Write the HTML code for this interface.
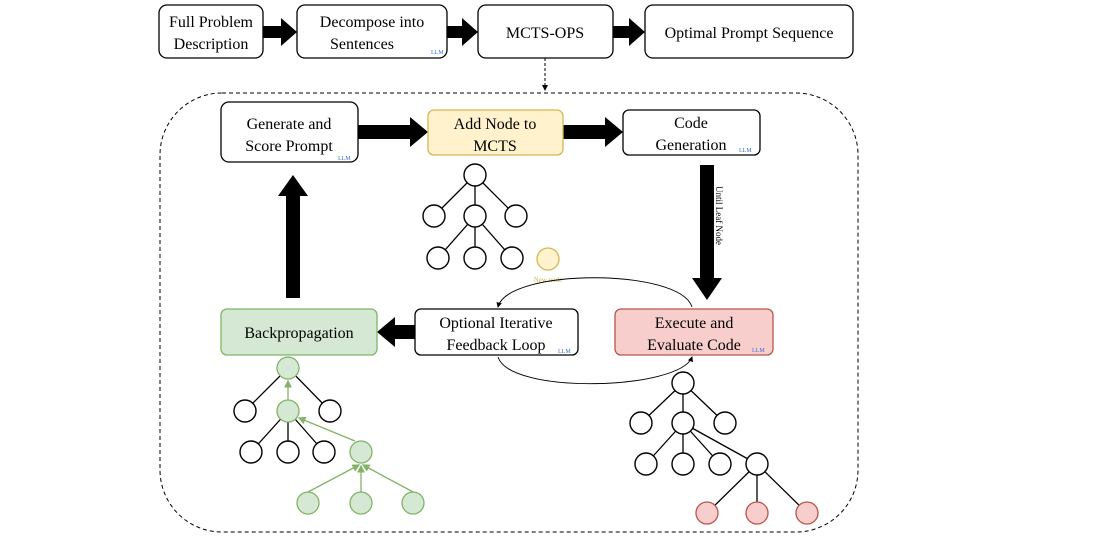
<!DOCTYPE html>
<html><head><style>
html,body{margin:0;padding:0;background:#fff;}
svg{display:block;font-family:"Liberation Serif",serif;}
</style></head><body>
<svg width="1096" height="548" viewBox="0 0 1096 548" xmlns="http://www.w3.org/2000/svg">
<defs>
<marker id="ah" markerWidth="6" markerHeight="6" refX="5" refY="3" orient="auto"><path d="M0,0 L6,3 L0,6 z" fill="#000"/></marker>
<marker id="ag" markerWidth="6" markerHeight="6" refX="5" refY="3" orient="auto"><path d="M0,0 L6,3 L0,6 z" fill="#82b366"/></marker>
</defs>
<g fill="#000">
<!-- top arrows -->
<path d="M263,26 h18 v-8 l16,14 l-16,14 v-8 h-18z"/>
<path d="M447,26 h15 v-8 l16,14 l-16,14 v-8 h-15z"/>
<path d="M613,26 h16 v-8 l16,14 l-16,14 v-8 h-16z"/>
<path d="M358,125 h52 v-8 l18,15 l-18,15 v-8 h-52z"/>
<path d="M563,125 h42 v-8 l18,15 l-18,15 v-8 h-42z"/>
<path d="M700,165 h14 v113 h8 l-15,22 l-15,-22 h8z"/>
<path d="M415,325 v14 h-20 v8 l-18,-15 l18,-15 v8z"/>
<path d="M286,298 v-102 h-8 l15,-21 l15,21 h-8 v102z"/>
</g>
<g stroke="#000" stroke-width="1.3" fill="#fff">
<rect x="159" y="5" width="104" height="53" rx="8"/>
<rect x="297" y="5" width="150" height="53" rx="8"/>
<rect x="478" y="5" width="135" height="53" rx="8"/>
<rect x="645" y="5" width="208" height="53" rx="8"/>
<rect x="221" y="102" width="137" height="60" rx="8"/>
<rect x="623" y="110" width="137" height="45" rx="6"/>
<rect x="415" y="309" width="163" height="46" rx="6"/>
</g>
<rect x="428" y="110" width="135" height="45" rx="6" fill="#fff2cc" stroke="#d6b656" stroke-width="1.3"/>
<rect x="615" y="309" width="158" height="46" rx="6" fill="#f8cecc" stroke="#b85450" stroke-width="1.3"/>
<rect x="221" y="309" width="156" height="46" rx="6" fill="#d5e8d4" stroke="#82b366" stroke-width="1.3"/>
<path d="M545,58 V90" stroke="#000" stroke-dasharray="3,2" fill="none" marker-end="url(#ah)"/>
<rect x="160" y="93" width="698" height="439" rx="62" fill="none" stroke="#000" stroke-dasharray="4,3"/>
<g font-size="16" text-anchor="middle" fill="#000">
<text x="211" y="27">Full Problem</text><text x="211" y="49">Description</text>
<text x="372" y="27">Decompose into</text><text x="362" y="49">Sentences</text>
<text x="545" y="38">MCTS-OPS</text>
<text x="749" y="38">Optimal Prompt Sequence</text>
<text x="289" y="129">Generate and</text><text x="289" y="151">Score Prompt</text>
<text x="495" y="129">Add Node to</text><text x="495" y="151">MCTS</text>
<text x="691" y="128">Code</text><text x="691" y="150">Generation</text>
<text x="299" y="338">Backpropagation</text>
<text x="496" y="328">Optional Iterative</text><text x="496" y="350">Feedback Loop</text>
<text x="694" y="328">Execute and</text><text x="694" y="350">Evaluate Code</text>
</g>
<g font-size="6" fill="#3b6fd6">
<text x="431" y="54">LLM</text><text x="338" y="160">LLM</text><text x="739" y="152">LLM</text>
<text x="558" y="353">LLM</text><text x="752" y="352">LLM</text>
</g>
<text x="716" y="186" font-size="9" transform="rotate(90 716 186)" fill="#000">Until Leaf Node</text>
<text x="548" y="282" font-size="7" fill="#d6b656" text-anchor="middle">New node</text>
<path d="M692,307 C680,268 508,268 498,307" fill="none" stroke="#000" stroke-width="0.9" marker-end="url(#ah)"/>
<path d="M498,357 C510,395 680,390 692,357" fill="none" stroke="#000" stroke-width="0.9" marker-end="url(#ah)"/>
<!-- tree edges -->
<g stroke="#000" stroke-width="1.3">
<path d="M475,175 L434,216 M475,175 L475,216 M475,175 L516,216 M475,216 L438,258 M475,216 L475,258 M475,216 L512,258"/>
<path d="M288,368 L245,411 M288,368 L330,411 M288,411 L251,452 M288,411 L288,452 M288,411 L324,452"/>
<path d="M683,383 L641,423 M683,383 L683,423 M683,383 L725,423 M683,423 L646,464 M683,423 L683,464 M683,423 L720,464 M683,423 L757,464 M757,464 L707,513 M757,464 L757,513 M757,464 L807,513"/>
</g>
<g stroke="#82b366" stroke-width="1.3" fill="none">
<path d="M288,400 L288,381" marker-end="url(#ag)"/>
<path d="M355,441 L299,418" marker-end="url(#ag)"/>
<path d="M308,492 L359,465" marker-end="url(#ag)"/>
<path d="M361,492 L361,466" marker-end="url(#ag)"/>
<path d="M413,492 L363,465" marker-end="url(#ag)"/>
</g>
<g stroke="#000" stroke-width="1.4" fill="#fff">
<circle cx="475" cy="175" r="11"/><circle cx="434" cy="216" r="11"/><circle cx="475" cy="216" r="11"/><circle cx="516" cy="216" r="11"/>
<circle cx="438" cy="258" r="11"/><circle cx="475" cy="258" r="11"/><circle cx="512" cy="258" r="11"/>
<circle cx="245" cy="411" r="11"/><circle cx="330" cy="411" r="11"/>
<circle cx="251" cy="452" r="11"/><circle cx="288" cy="452" r="11"/><circle cx="324" cy="452" r="11"/>
<circle cx="683" cy="383" r="11"/><circle cx="641" cy="423" r="11"/><circle cx="683" cy="423" r="11"/><circle cx="725" cy="423" r="11"/>
<circle cx="646" cy="464" r="11"/><circle cx="683" cy="464" r="11"/><circle cx="720" cy="464" r="11"/><circle cx="757" cy="464" r="11"/>
</g>
<circle cx="548" cy="259" r="11" fill="#fff2cc" stroke="#d6b656" stroke-width="1.3"/>
<g stroke="#82b366" stroke-width="1.3" fill="#d5e8d4">
<circle cx="288" cy="368" r="11"/><circle cx="288" cy="411" r="11"/><circle cx="361" cy="452" r="11"/>
<circle cx="308" cy="503" r="11"/><circle cx="361" cy="503" r="11"/><circle cx="413" cy="503" r="11"/>
</g>
<g stroke="#b85450" stroke-width="1.3" fill="#f8cecc">
<circle cx="707" cy="513" r="11"/><circle cx="757" cy="513" r="11"/><circle cx="807" cy="513" r="11"/>
</g>
</svg>
</body></html>
